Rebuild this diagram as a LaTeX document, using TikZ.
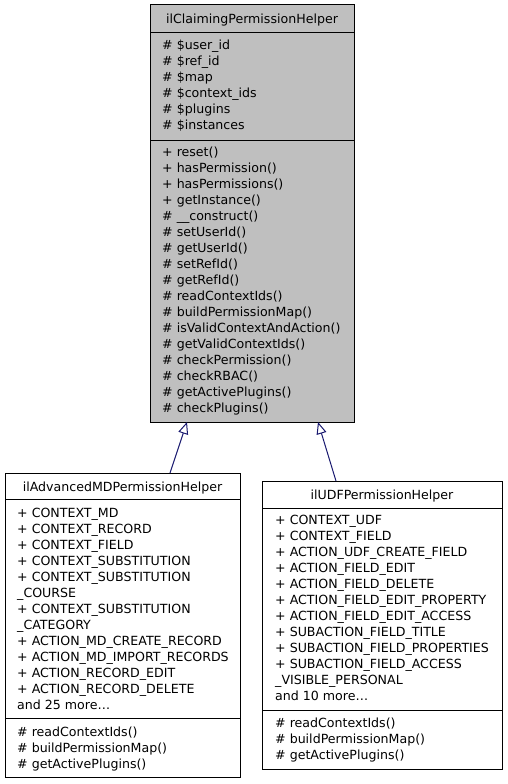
\documentclass[tikz,border=0pt]{standalone}
\usepackage{fontspec}
\setmainfont{DejaVu Sans}
\usetikzlibrary{arrows.meta}
\definecolor{edgeblue}{RGB}{25,25,112}
\definecolor{boxgray}{RGB}{191,191,191}
\begin{document}
\begin{tikzpicture}[x=1pt,y=-1pt,
 cls/.style={draw=black, line width=1pt, anchor=north west, inner sep=0pt, outer sep=0pt},
 txt/.style={anchor=base west, inner sep=0pt, font=\fontsize{12.6}{16}\selectfont},
 ttl/.style={anchor=base, inner sep=0pt, font=\fontsize{12.6}{16}\selectfont},
 sepline/.style={draw=black, line width=1pt},
 inherit/.style={draw=edgeblue, line width=1pt, -{Triangle[open, length=12pt, width=10pt, fill=white]}}]
\useasboundingbox (0,0) rectangle (507,784);
\fill[white] (0,0) rectangle (507,784);

% base class
\node[cls, fill=boxgray, minimum width=204pt, minimum height=417pt] (top) at (150,5) {};
\draw[sepline] (top.west |- 0,33) -- (top.east |- 0,33);
\draw[sepline] (top.west |- 0,140) -- (top.east |- 0,140);
\node[ttl] (toptitle) at (252,23.5) {ilClaimingPermissionHelper};
\foreach \t [count=\i] in {\# \$user\_id, \# \$ref\_id, \# \$map, \# \$context\_ids, \# \$plugins, \# \$instances}
  \node[txt] (ta\i) at (162,{33.5+16*\i}) {\t};
\foreach \t [count=\i] in {+ reset(), + hasPermission(), + hasPermissions(), + getInstance(), \# \_\_construct(), \# setUserId(), \# getUserId(), \# setRefId(), \# getRefId(), \# readContextIds(), \# buildPermissionMap(), \# isValidContextAndAction(), \# getValidContextIds(), \# checkPermission(), \# checkRBAC(), \# getActivePlugins(), \# checkPlugins()}
  \node[txt] (tm\i) at (162,{140.5+16*\i}) {\t};

% left derived class
\node[cls, fill=white, minimum width=235pt, minimum height=304pt] (left) at (5,473) {};
\draw[sepline] (left.west |- 0,499) -- (left.east |- 0,499);
\draw[sepline] (left.west |- 0,718) -- (left.east |- 0,718);
\node[ttl] (lefttitle) at (122.5,491) {ilAdvancedMDPermissionHelper};
\foreach \t [count=\i] in {+ CONTEXT\_MD, + CONTEXT\_RECORD, + CONTEXT\_FIELD, + CONTEXT\_SUBSTITUTION, + CONTEXT\_SUBSTITUTION, \_COURSE, + CONTEXT\_SUBSTITUTION, \_CATEGORY, + ACTION\_MD\_CREATE\_RECORD, + ACTION\_MD\_IMPORT\_RECORDS, + ACTION\_RECORD\_EDIT, + ACTION\_RECORD\_DELETE, {and 25 more\ldots}}
  \node[txt] (la\i) at (17,{501.5+16*\i}) {\t};
\foreach \t [count=\i] in {\# readContextIds(), \# buildPermissionMap(), \# getActivePlugins()}
  \node[txt] (lm\i) at (17,{720.5+16*\i}) {\t};

% right derived class
\node[cls, fill=white, minimum width=240pt, minimum height=288pt] (right) at (262,481) {};
\draw[sepline] (right.west |- 0,508) -- (right.east |- 0,508);
\draw[sepline] (right.west |- 0,710) -- (right.east |- 0,710);
\node[ttl] (righttitle) at (382,499.5) {ilUDFPermissionHelper};
\foreach \t [count=\i] in {+ CONTEXT\_UDF, + CONTEXT\_FIELD, + ACTION\_UDF\_CREATE\_FIELD, + ACTION\_FIELD\_EDIT, + ACTION\_FIELD\_DELETE, + ACTION\_FIELD\_EDIT\_PROPERTY, + ACTION\_FIELD\_EDIT\_ACCESS, + SUBACTION\_FIELD\_TITLE, + SUBACTION\_FIELD\_PROPERTIES, + SUBACTION\_FIELD\_ACCESS, \_VISIBLE\_PERSONAL, {and 10 more\ldots}}
  \node[txt] (ra\i) at (275,{508.5+16*\i}) {\t};
\foreach \t [count=\i] in {\# readContextIds(), \# buildPermissionMap(), \# getActivePlugins()}
  \node[txt] (rm\i) at (275,{711.5+16*\i}) {\t};

% inheritance connectors
\coordinate (ls) at (170,473);
\coordinate (le) at (187,422);
\coordinate (rs) at (336,481);
\coordinate (re) at (318,422);
\draw[inherit] (ls) -- (le);
\draw[inherit] (rs) -- (re);
\end{tikzpicture}
\end{document}
